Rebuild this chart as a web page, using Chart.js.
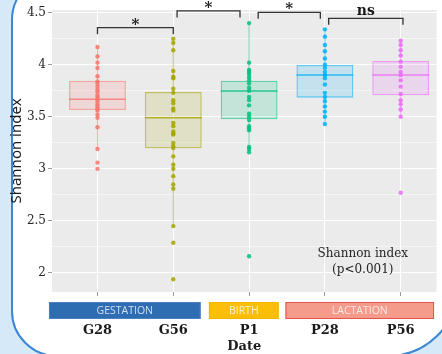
<!DOCTYPE html>
<html>
<head>
<meta charset="utf-8">
<script src="https://cdn.jsdelivr.net/npm/chart.js@4.4.0/dist/chart.umd.min.js"></script>
<style>
  body { margin: 0; background: #fff; overflow: hidden; }
  #wrap { width: 442px; height: 354px; }
</style>
</head>
<body>
<div id="wrap"><canvas id="chartCanvas"></canvas></div>
<script>
// categories / ticks
const categories = ['G28', 'G56', 'P1', 'P28', 'P56'];
const yTicks = [2, 2.5, 3, 3.5, 4, 4.5];
const yMinorTicks = [2.25, 2.75, 3.25, 3.75, 4.25];

// box stats
const q1 = [3.565, 3.197, 3.476, 3.684, 3.707];
const median = [3.668, 3.491, 3.748, 3.902, 3.902];
const q3 = [3.847, 3.738, 3.847, 3.998, 4.036];
const whiskerLow = [3.19, 2.45, 3.16, 3.43, 3.50];
const whiskerHigh = [4.17, 4.25, 4.40, 4.34, 4.23];

// individual samples
const g28 = [4.17, 4.08, 4.02, 3.97, 3.89, 3.84, 3.82, 3.79, 3.76, 3.74, 3.71, 3.69, 3.67, 3.65, 3.62, 3.60, 3.58, 3.56, 3.52, 3.49, 3.40, 3.19, 3.06, 3.00];
const g56 = [4.25, 4.21, 4.14, 3.94, 3.885, 3.87, 3.77, 3.73, 3.66, 3.63, 3.58, 3.56, 3.44, 3.41, 3.36, 3.34, 3.33, 3.25, 3.22, 3.20, 3.12, 3.04, 3.00, 2.93, 2.85, 2.81, 2.45, 2.29, 1.94];
const p1 = [4.40, 4.02, 3.95, 3.93, 3.91, 3.88, 3.85, 3.82, 3.78, 3.75, 3.69, 3.66, 3.61, 3.53, 3.50, 3.47, 3.41, 3.39, 3.37, 3.21, 3.19, 3.16, 2.16];
const p28 = [4.34, 4.27, 4.19, 4.13, 4.06, 4.00, 3.97, 3.93, 3.90, 3.87, 3.81, 3.73, 3.69, 3.65, 3.60, 3.55, 3.50, 3.43];
const p56 = [4.23, 4.19, 4.14, 4.09, 4.03, 3.98, 3.93, 3.90, 3.85, 3.79, 3.72, 3.66, 3.62, 3.57, 3.50, 2.77];
const groupPoints = [g28, g56, p1, p28, p56];

const groupColors = ['248,118,109', '163,165,0', '0,191,125', '0,176,246', '231,107,243'];

// phase bands under the axis (category units)
const phaseNames = ['GESTATION', 'BIRTH', 'LACTATION'];
const phaseFrom = [0.36, 2.47, 3.48];
const phaseTo = [2.36, 3.39, 5.44];
const phaseFill = ['#2f6db3', '#fbbf0a', '#f59b8c'];
const phaseEdge = ['#4a80c0', '#f2b600', '#e4544a'];

// significance brackets
const pairFrom = [1, 2.05, 3.12, 4.05];
const pairTo = [2, 2.88, 3.94, 5.03];
const pairY = [4.356, 4.517, 4.504, 4.446];
const pairLabel = ['*', '*', '*', 'ns'];

const datasets = [];
datasets.push({
    type: 'bar',
    data: categories.map((c, i) => ({ x: i + 1, y: [q1[i], q3[i]] })),
    backgroundColor: groupColors.map(c => `rgba(${c},0.16)`),
    borderColor: groupColors.map(c => `rgba(${c},0.6)`),
    borderWidth: 1.3,
    borderSkipped: false,
    barPercentage: 0.75,
    categoryPercentage: 1,
    order: 3
});
categories.forEach((c, i) => {
    const x = i + 1;
    const col = groupColors[i];
    datasets.push({
        type: 'line',
        data: [{ x, y: whiskerLow[i] }, { x, y: q1[i] }, { x, y: null }, { x, y: q3[i] }, { x, y: whiskerHigh[i] }],
        borderColor: `rgba(${col},0.6)`,
        borderWidth: 1,
        pointRadius: 0,
        spanGaps: false,
        order: 2
    });
    datasets.push({
        type: 'line',
        data: [{ x: x - 0.375, y: median[i] }, { x: x + 0.375, y: median[i] }],
        borderColor: `rgba(${col},0.8)`,
        borderWidth: 1.6,
        pointRadius: 0,
        order: 1
    });
    datasets.push({
        type: 'scatter',
        data: groupPoints[i].map(v => ({ x, y: v })),
        backgroundColor: `rgba(${col},0.85)`,
        borderWidth: 0,
        pointRadius: 2.2,
        order: 0
    });
});

const framePlugin = {
    id: 'frame',
    beforeDraw(chart) {
        const ctx = chart.ctx;
        const a = chart.chartArea;
        ctx.save();
        ctx.fillStyle = '#d6e9f8';
        ctx.fillRect(0, 0, chart.width, chart.height);
        ctx.beginPath();
        ctx.roundRect(12, -25, 446, 381, [45, 10, 70, 45]);
        ctx.fillStyle = '#ffffff';
        ctx.fill();
        ctx.strokeStyle = '#3a87d4';
        ctx.lineWidth = 2;
        ctx.stroke();
        ctx.fillStyle = '#ebebeb';
        ctx.fillRect(a.left, a.top, a.right - a.left, a.bottom - a.top);
        ctx.restore();
    },
    afterDraw(chart) {
        const ctx = chart.ctx;
        const xs = chart.scales.x;
        const ys = chart.scales.y;
        ctx.save();
        // phase bands
        const top = xs.top + 10;
        phaseNames.forEach((n, i) => {
            const x0 = xs.getPixelForValue(phaseFrom[i]);
            const x1 = xs.getPixelForValue(phaseTo[i]);
            ctx.fillStyle = phaseFill[i];
            ctx.fillRect(x0, top, x1 - x0, 17);
            ctx.strokeStyle = phaseEdge[i];
            ctx.lineWidth = 1;
            ctx.strokeRect(x0 + 0.5, top + 0.5, x1 - x0 - 1, 16);
            ctx.fillStyle = 'rgba(255,255,255,0.78)';
            ctx.font = '10.5px "Open Sans"';
            ctx.textAlign = 'center';
            ctx.textBaseline = 'middle';
            ctx.fillText(n, (x0 + x1) / 2, top + 9);
        });
        // brackets
        pairLabel.forEach((lab, i) => {
            const x0 = xs.getPixelForValue(pairFrom[i]);
            const x1 = xs.getPixelForValue(pairTo[i]);
            const y = ys.getPixelForValue(pairY[i]);
            ctx.strokeStyle = '#333';
            ctx.lineWidth = 1.3;
            ctx.beginPath();
            ctx.moveTo(x0, y + 6.5);
            ctx.lineTo(x0, y);
            ctx.lineTo(x1, y);
            ctx.lineTo(x1, y + 6.5);
            ctx.stroke();
            ctx.fillStyle = '#1a1a1a';
            ctx.textAlign = 'center';
            ctx.textBaseline = 'alphabetic';
            if (lab === '*') {
                ctx.font = 'bold 15px "DejaVu Serif"';
                ctx.fillText(lab, (x0 + x1) / 2, y + 1);
            } else {
                ctx.font = 'bold 14px "DejaVu Serif"';
                ctx.fillText(lab, (x0 + x1) / 2, y - 3);
            }
        });
        // note
        const nx = xs.getPixelForValue(4.5);
        const ny = ys.getPixelForValue(2.18);
        ctx.fillStyle = '#262626';
        ctx.font = '12px "DejaVu Serif"';
        ctx.textAlign = 'center';
        ctx.textBaseline = 'middle';
        ctx.fillText('Shannon index', nx, ny);
        ctx.fillText('(p<0.001)', nx, ny + 16);
        ctx.restore();
    }
};

new Chart(document.getElementById('chartCanvas'), {
    type: 'scatter',
    data: { datasets },
    plugins: [framePlugin],
    options: {
        responsive: true,
        maintainAspectRatio: false,
        animation: false,
        layout: { padding: { top: 10, left: 0, right: 0, bottom: 0 } },
        plugins: { legend: { display: false }, tooltip: { enabled: false } },
        scales: {
            x: {
                type: 'linear',
                min: 0.4,
                max: 5.473,
                offset: false,
                afterBuildTicks: s => { s.ticks = categories.map((c, i) => ({ value: i + 1 })); },
                afterFit: s => { s.height = 62; },
                ticks: {
                    callback: v => categories[v - 1],
                    font: { family: 'DejaVu Serif', weight: 'bold', size: 13 },
                    color: '#1a1a1a',
                    padding: 27,
                    maxRotation: 0,
                    autoSkip: false
                },
                grid: { offset: false, color: '#ffffff', lineWidth: 1, tickColor: '#9a9a9a', tickLength: 4 },
                border: { display: false },
                title: {
                    display: true,
                    text: 'Date',
                    font: { family: 'DejaVu Serif', weight: 'bold', size: 13 },
                    color: '#1a1a1a',
                    padding: 0
                }
            },
            y: {
                type: 'linear',
                min: 1.817,
                max: 4.526,
                beginAtZero: false,
                afterBuildTicks: s => { s.ticks = [...yTicks, ...yMinorTicks].sort((a, b) => a - b).map(v => ({ value: v })); },
                afterFit: s => { s.width = 52; },
                ticks: {
                    callback: v => yTicks.includes(v) ? String(v) : '',
                    font: { family: 'DejaVu Serif', size: 12 },
                    color: '#262626',
                    padding: 2,
                    autoSkip: false
                },
                grid: {
                    color: '#ffffff',
                    lineWidth: c => yTicks.includes(c.tick.value) ? 1 : 0.5,
                    tickColor: c => yTicks.includes(c.tick.value) ? '#9a9a9a' : 'rgba(0,0,0,0)',
                    tickLength: 4
                },
                border: { display: false },
                title: {
                    display: true,
                    text: 'Shannon index',
                    font: { family: 'Noto Sans', size: 15 },
                    color: '#1a1a1a',
                    padding: { top: 8, bottom: 0 }
                }
            }
        }
    }
});
</script>
</body>
</html>
